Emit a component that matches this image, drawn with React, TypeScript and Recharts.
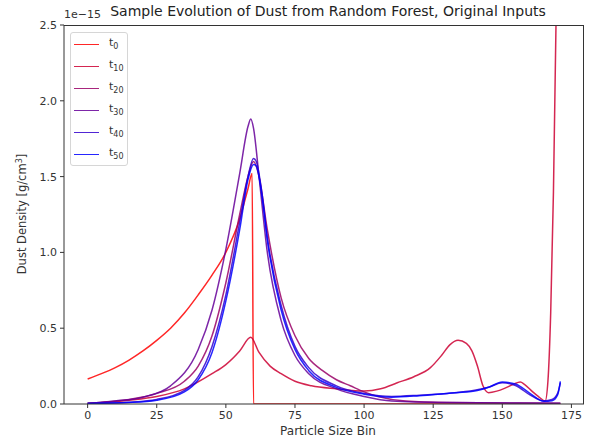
import { LineChart, Line, XAxis, YAxis } from 'recharts';

type Pt = [number, number];

const xTicks = [0, 25, 50, 75, 100, 125, 150, 175];
const yTicks = [0, 0.5, 1, 1.5, 2, 2.5];
const steps = ['0', '10', '20', '30', '40', '50'];

// values in units of 1e-15 g/cm^3
const t0: Pt[] = [
  [0, 0.165], [5, 0.2], [10, 0.24], [15, 0.29], [20, 0.35], [25, 0.42], [30, 0.5], [35, 0.6],
  [40, 0.72], [45, 0.85], [50, 1.0], [55, 1.22], [58, 1.42], [59.5, 1.52], [60, 0], [100, 0], [171, 0],
];
const t10: Pt[] = [
  [0, 0.003], [15, 0.025], [25, 0.05], [35, 0.1], [45, 0.2], [50, 0.26], [55, 0.35], [59, 0.44],
  [62, 0.34], [66, 0.25], [70, 0.2], [75, 0.15], [81, 0.12], [90, 0.1], [100, 0.085], [106, 0.1],
  [112, 0.14], [118, 0.18], [124, 0.24], [128, 0.32], [131, 0.39], [134, 0.42], [137, 0.4], [139, 0.35],
  [141, 0.25], [143, 0.12], [145, 0.075], [148, 0.085], [151, 0.105], [154, 0.13], [156.5, 0.145],
  [158, 0.13], [161, 0.08], [163, 0.05], [165.5, 0.02], [166.5, 0.15], [167.5, 0.6], [168.5, 1.4],
  [169.5, 2.6], [171, 5],
];
const t20: Pt[] = [
  [0, 0.005], [15, 0.03], [25, 0.07], [35, 0.15], [40, 0.25], [45, 0.45], [50, 0.8], [55, 1.25],
  [58, 1.5], [60, 1.6], [62, 1.5], [65, 1.15], [70, 0.7], [75, 0.45], [80, 0.3], [85, 0.22],
  [90, 0.16], [95, 0.12], [100, 0.08], [105, 0.05], [115, 0.02], [130, 0.01], [171, 0.005],
];
const t30: Pt[] = [
  [0, 0.005], [10, 0.02], [20, 0.045], [30, 0.12], [40, 0.36], [45, 0.62], [50, 1.02], [55, 1.52],
  [58, 1.83], [59, 1.88], [60, 1.82], [62, 1.5], [65, 1.0], [70, 0.55], [75, 0.32], [80, 0.2],
  [90, 0.1], [100, 0.05], [110, 0.02], [130, 0.01], [171, 0.005],
];
const t40: Pt[] = [
  [0, 0.003], [15, 0.012], [25, 0.03], [35, 0.09], [40, 0.18], [45, 0.38], [50, 0.72], [55, 1.2],
  [58, 1.5], [60, 1.62], [61, 1.6], [63, 1.4], [65, 1.1], [70, 0.65], [75, 0.38], [80, 0.24],
  [90, 0.12], [100, 0.07], [110, 0.05], [120, 0.058], [130, 0.07], [140, 0.09], [145, 0.11],
  [150, 0.14], [155, 0.12], [160, 0.06], [165, 0.02], [168, 0.03], [170, 0.07], [171, 0.14],
];
const t50: Pt[] = [
  [0, 0.003], [15, 0.01], [25, 0.025], [35, 0.08], [40, 0.16], [45, 0.34], [50, 0.68], [55, 1.15],
  [58, 1.48], [60, 1.58], [61, 1.57], [63, 1.38], [65, 1.08], [70, 0.62], [75, 0.36], [80, 0.22],
  [90, 0.11], [100, 0.065], [110, 0.045], [120, 0.055], [130, 0.07], [140, 0.085], [145, 0.11],
  [150, 0.145], [155, 0.13], [160, 0.07], [165, 0.018], [168, 0.022], [170, 0.06], [171, 0.15],
];

const series = [t0, t10, t20, t30, t40, t50];
const colors = ['#ff0000', '#cc0033', '#990066', '#660099', '#3300cc', '#0000ff'];

const font = '"DejaVu Sans", sans-serif';
const ink = '#333';

export default function App() {
  const tables = series.map((s) => s.map(([x, y]) => ({ x, y })));

  return (
    <div style={{ position: 'absolute', left: 0, top: 0, width: 595, height: 442, background: '#fff', fontFamily: font }}>
      <LineChart width={595} height={442} margin={{ top: 25, right: 11, bottom: 0, left: 0 }}>
        <XAxis
          type="number"
          dataKey="x"
          domain={[-8.55, 179.55]}
          ticks={xTicks}
          allowDataOverflow
          height={38}
          tickSize={4}
          tickMargin={3}
          tick={{ fontSize: 11, fill: ink, fontFamily: font }}
          stroke={ink}
        />
        <YAxis
          type="number"
          domain={[0, 2.5]}
          ticks={yTicks}
          allowDataOverflow
          width={64}
          tickSize={4}
          tickMargin={3}
          tickFormatter={(v: number) => v.toFixed(1)}
          tick={{ fontSize: 11, fill: ink, fontFamily: font }}
          stroke={ink}
        />
        {tables.map((data, i) => (
          <Line
            key={steps[i]}
            data={data}
            dataKey="y"
            name={`t${steps[i]}`}
            type="monotone"
            stroke={colors[i]}
            strokeOpacity={0.85}
            strokeWidth={1.5}
            dot={false}
            activeDot={false}
            isAnimationActive={false}
          />
        ))}
      </LineChart>

      {/* plot frame (top and right spines) */}
      <div
        style={{
          position: 'absolute',
          left: 64,
          top: 25,
          width: 520,
          height: 379,
          borderTop: `1px solid ${ink}`,
          borderRight: `1px solid ${ink}`,
          boxSizing: 'border-box',
          pointerEvents: 'none',
        }}
      />

      <div style={{ position: 'absolute', left: 0, width: 656, top: 3, textAlign: 'center', fontSize: 14, color: '#222' }}>
        Sample Evolution of Dust from Random Forest, Original Inputs
      </div>
      <div style={{ position: 'absolute', left: 64, top: 8, fontSize: 11, color: ink }}>1e−15</div>
      <div style={{ position: 'absolute', left: 0, width: 656, top: 424, textAlign: 'center', fontSize: 12, color: ink }}>
        Particle Size Bin
      </div>
      <div
        style={{
          position: 'absolute',
          left: 22,
          top: 214,
          transform: 'translate(-50%, -50%) rotate(-90deg)',
          whiteSpace: 'nowrap',
          fontSize: 11.5,
          color: ink,
        }}
      >
        Dust Density [g/cm<sup style={{ fontSize: 8 }}>3</sup>]
      </div>

      <div
        style={{
          position: 'absolute',
          left: 70,
          top: 32,
          width: 58,
          height: 134,
          border: '1px solid #d6d6d6',
          borderRadius: 3,
          background: 'rgba(255,255,255,0.8)',
          boxSizing: 'border-box',
        }}
      >
        {steps.map((s, i) => (
          <div key={s} style={{ position: 'absolute', left: 3, top: 2 + i * 22, height: 18, display: 'flex', alignItems: 'center' }}>
            <div style={{ width: 25, height: 0, borderTop: `1.5px solid ${colors[i]}`, opacity: 0.85 }} />
            <div style={{ marginLeft: 10, fontSize: 11, color: ink }}>
              t<sub style={{ fontSize: 8 }}>{s}</sub>
            </div>
          </div>
        ))}
      </div>
    </div>
  );
}
